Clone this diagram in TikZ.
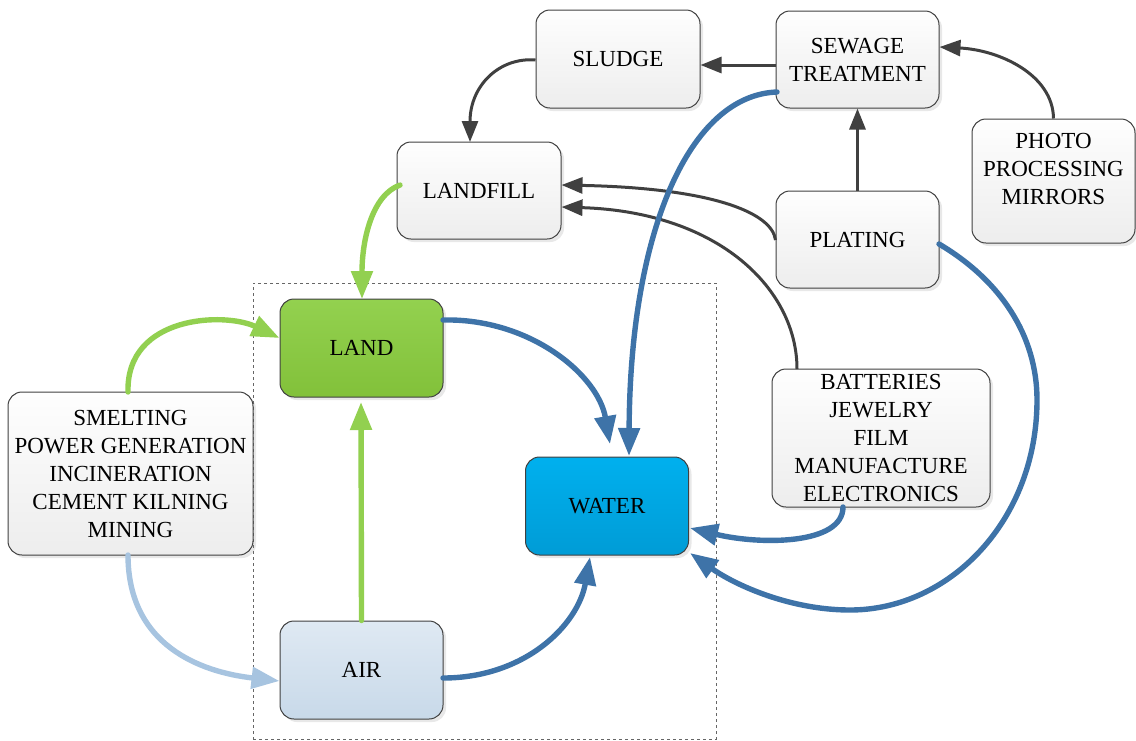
\documentclass[tikz,border=0pt]{standalone}
\usepackage{fontspec}
\setmainfont{Liberation Serif}
\usetikzlibrary{arrows.meta,shadows}
\definecolor{darkline}{HTML}{404040}
\definecolor{blueline}{HTML}{3E73A8}
\definecolor{greenline}{HTML}{92D050}
\definecolor{lightblueline}{HTML}{A7C4E0}
\definecolor{boxtop}{HTML}{FEFEFE}
\definecolor{boxbot}{HTML}{EDEDED}
\definecolor{landtop}{HTML}{93D14F}
\definecolor{landbot}{HTML}{82C13A}
\definecolor{watertop}{HTML}{00B0EE}
\definecolor{waterbot}{HTML}{009CD6}
\definecolor{airtop}{HTML}{DFE9F3}
\definecolor{airbot}{HTML}{C8D9E9}
\begin{document}
\begin{tikzpicture}[x=1pt,y=-1pt,
  font=\fontsize{23}{28}\selectfont,
  base/.style={draw=darkline,line width=1pt,rounded corners=14pt,align=center,inner sep=0pt,
    drop shadow={opacity=0.18,shadow xshift=3pt,shadow yshift=-3pt}},
  graybox/.style={base,top color=boxtop,bottom color=boxbot},
  landbox/.style={base,top color=landtop,bottom color=landbot},
  waterbox/.style={base,top color=watertop,bottom color=waterbot},
  airbox/.style={base,top color=airtop,bottom color=airbot},
  darkarrow/.style={draw=darkline,line width=3pt,-{Triangle[length=21pt,width=16pt]}},
  bluearrow/.style={draw=blueline,line width=5.4pt,line cap=round,-{Triangle[length=28pt,width=21pt]}},
  greenarrow/.style={draw=greenline,line width=5.4pt,line cap=round,-{Triangle[length=28pt,width=21pt]}},
  lbarrow/.style={draw=lightblueline,line width=5.4pt,line cap=round,-{Triangle[length=28pt,width=21pt]}},
]
\useasboundingbox (0,0) rectangle (1136,740);
% dashed frame
\node[draw=darkline!80,dashed,line width=0.7pt,minimum width=463pt,minimum height=456pt,inner sep=0pt] (frame) at (484.5,511) {};

% boxes
\node[graybox,minimum width=164pt,minimum height=98pt] (sludge) at (618,59) {SLUDGE};
\node[graybox,minimum width=163pt,minimum height=97pt] (sewage) at (857.5,59.5) {SEWAGE\\TREATMENT};
\node[graybox,minimum width=164pt,minimum height=97pt] (landfill) at (479,190.5) {LANDFILL};
\node[graybox,minimum width=163pt,minimum height=97pt] (plating) at (857.5,239.5) {PLATING};
\node[graybox,minimum width=163pt,minimum height=124pt] (photo) at (1053.5,181) {};
\node[align=center,inner sep=0pt] (phototext) at (1053.5,169) {PHOTO\\PROCESSING\\MIRRORS};
\node[landbox,minimum width=163pt,minimum height=98pt] (land) at (361.5,348) {LAND};
\node[airbox,minimum width=163pt,minimum height=98pt] (air) at (361.5,670) {AIR};
\node[waterbox,minimum width=163pt,minimum height=98pt] (water) at (607,506) {WATER};
\node[graybox,minimum width=218pt,minimum height=138pt] (batt) at (881,438) {BATTERIES\\JEWELRY\\FILM\\MANUFACTURE\\ELECTRONICS};
\node[graybox,minimum width=245pt,minimum height=163pt] (smelt) at (130.5,473.5) {SMELTING\\POWER GENERATION\\INCINERATION\\CEMENT KILNING\\MINING};

% coordinates on borders
\coordinate (sewW) at (sewage.west |- 0,65);
\coordinate (sludE) at (sludge.east |- 0,65);
\coordinate (photoN) at (photo.north);
\coordinate (sewE) at (sewage.east |- 0,47);
\coordinate (platN) at (plating.north);
\coordinate (sewS) at (sewage.south);
\coordinate (sludW) at (sludge.west |- 0,60);
\coordinate (lfN) at (470,142);
\coordinate (platW) at (plating.west |- 0,240);
\coordinate (lfE1) at (landfill.east |- 0,185);
\coordinate (lfE2) at (landfill.east |- 0,207);
\coordinate (battN) at (797,369);
\coordinate (sewSW) at (777,92);
\coordinate (waterN2) at (629,456);
\coordinate (lfW) at (400,185);
\coordinate (landN) at (362,299);
\coordinate (landE) at (443,320);
\coordinate (waterN1) at (610,444);
\coordinate (smeltN) at (128,392);
\coordinate (landW) at (land.west |- 0,338);
\coordinate (airN) at (air.north);
\coordinate (landS) at (361,402);
\coordinate (smeltS) at (128,555);
\coordinate (airW) at (air.west |- 0,681);
\coordinate (airE) at (443,678);
\coordinate (waterS) at (590,557);
\coordinate (battS) at (843,507);
\coordinate (waterE1) at (690,528);
\coordinate (platE) at (939,244);
\coordinate (waterE2) at (690,553);

% dark connectors
\draw[darkarrow] (sewW) -- (sludE);
\draw[darkarrow] (photoN) .. controls (1053,75) and (1000,50) .. (sewE);
\draw[darkarrow] (platN) -- (sewS);
\draw[darkarrow] (sludW) .. controls (500,57) and (470,85) .. (lfN);
\draw[darkarrow] (platW) .. controls (772,212) and (710,188) .. (lfE1);
\draw[darkarrow] (battN) .. controls (797,290) and (720,212) .. (lfE2);

% blue connectors
\draw[bluearrow] (sewSW) .. controls (690,95) and (630,230) .. (waterN2);
\draw[bluearrow] (landE) .. controls (530,318) and (598,375) .. (waterN1);
\draw[bluearrow] (airE) .. controls (525,678) and (578,625) .. (waterS);
\draw[bluearrow] (battS) .. controls (843,545) and (760,545) .. (waterE1);
\draw[bluearrow] (platE) .. controls (1000,280) and (1037,335) .. (1037,400)
  .. controls (1037,520) and (950,610) .. (850,610)
  .. controls (790,610) and (735,585) .. (waterE2);

% green connectors
\draw[greenarrow] (lfW) .. controls (372,195) and (362,240) .. (landN);
\draw[greenarrow] (smeltN) .. controls (126,315) and (225,312) .. (landW);
\draw[greenarrow] (airN) -- (landS);

% light blue connector
\draw[lbarrow] (smeltS) .. controls (128,645) and (200,672) .. (airW);
\end{tikzpicture}
\end{document}
